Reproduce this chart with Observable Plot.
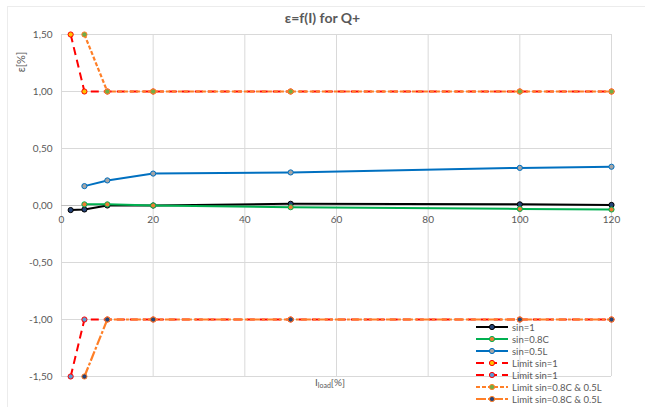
<!DOCTYPE html>
<html>
<head>
<meta charset="utf-8">
<script src="https://cdn.jsdelivr.net/npm/d3@7"></script>
<script src="https://cdn.jsdelivr.net/npm/@observablehq/plot@0.6"></script>
<style>
  html, body { margin: 0; padding: 0; background: #fff; }
  #chart { position: relative; width: 645px; height: 407px; font-family: Lato, "Open Sans", sans-serif; color: #595959; }
  #chart svg { display: block; }
  .title { position: absolute; left: 0; width: 645px; top: 10px; text-align: center; font-size: 14px; font-weight: bold; line-height: 16px; color: #595959; }
  .ylab { position: absolute; left: 20px; top: 62px; transform: translate(-50%, -50%) rotate(-90deg); font-size: 11px; white-space: nowrap; }
  .xlab { position: absolute; left: 330px; top: 382px; transform: translate(-50%, -50%); font-size: 10px; white-space: nowrap; }
  .xlab sub { font-size: 7px; vertical-align: -2px; }
  .legend { position: absolute; left: 474px; top: 321px; font-size: 9.5px; }
  .legend .row { display: flex; align-items: center; height: 12px; }
  .legend svg { margin-right: 2px; }
  .edge { position: absolute; left: 7px; top: 6px; right: 0; bottom: 0; border-left: 1px solid #ececec; border-top: 1px solid #ececec; pointer-events: none; }
</style>
</head>
<body>
<div id="chart"></div>
<script>
// Load current I_load [%] at which each error was measured
const loadAll = [2, 5, 10, 20, 50, 100, 120];
const loadFrom5 = [5, 10, 20, 50, 100, 120];

// Measured errors ε [%]
const errSin1 = [-0.04, -0.035, 0.0, 0.0, 0.015, 0.01, 0.005];
const errSin08C = [0.01, 0.01, 0.0, -0.015, -0.03, -0.035];
const errSin05L = [0.17, 0.22, 0.28, 0.29, 0.33, 0.34];

// Error limits ε [%]
const limSin1Upper = [1.5, 1.0, 1.0, 1.0, 1.0, 1.0, 1.0];
const limSin1Lower = [-1.5, -1.0, -1.0, -1.0, -1.0, -1.0, -1.0];
const limCLUpper = [1.5, 1.0, 1.0, 1.0, 1.0, 1.0];
const limCLLower = [-1.5, -1.0, -1.0, -1.0, -1.0, -1.0];

// Axis ticks
const xTicks = [0, 20, 40, 60, 80, 100, 120];
const yTicks = [-1.5, -1.0, -0.5, 0.0, 0.5, 1.0, 1.5];

const pts = (xs, ys) => xs.map((x, i) => ({x, y: ys[i]}));

// name, points, line colour, dash, marker fill, marker stroke
const series = [
  {name: "sin=1", data: pts(loadAll, errSin1), stroke: "#000000", width: 2, dash: null, fill: "#264478", mstroke: "#000000"},
  {name: "sin=0.8C", data: pts(loadFrom5, errSin08C), stroke: "#00B050", width: 2, dash: null, fill: "#ED7D31", mstroke: "#00B050"},
  {name: "sin=0.5L", data: pts(loadFrom5, errSin05L), stroke: "#0070C0", width: 2, dash: null, fill: "#A5A5A5", mstroke: "#0070C0"},
  {name: "Limit sin=1", data: pts(loadAll, limSin1Upper), stroke: "#FF0000", width: 2, dash: "8,5", fill: "#FFC000", mstroke: "#FF0000"},
  {name: "Limit sin=1", data: pts(loadAll, limSin1Lower), stroke: "#FF0000", width: 2, dash: "8,5", fill: "#5B9BD5", mstroke: "#FF0000"},
  {name: "Limit sin=0.8C & 0.5L", data: pts(loadFrom5, limCLUpper), stroke: "#FF7F27", width: 2.2, dash: "4,2", fill: "#70AD47", mstroke: "#FF7F27"},
  {name: "Limit sin=0.8C & 0.5L", data: pts(loadFrom5, limCLLower), stroke: "#FF7F27", width: 2.2, dash: "10,2,3,2", fill: "#264478", mstroke: "#FF7F27"}
];

const fmtY = d => d.toFixed(2).replace(".", ",");

const marks = [
  Plot.gridX(xTicks, {stroke: "#d9d9d9", strokeOpacity: 1, strokeWidth: 1}),
  Plot.gridY(yTicks, {stroke: "#d9d9d9", strokeOpacity: 1, strokeWidth: 1}),
  Plot.ruleY([0], {stroke: "#bfbfbf", strokeWidth: 1}),
  Plot.axisY(yTicks, {tickSize: 0, tickPadding: 9, tickFormat: fmtY, fontSize: 10, fill: "#595959", label: null}),
  Plot.text(xTicks, {x: d => d, y: 0, dy: 14, text: d => String(d), fontSize: 10, fill: "#595959"})
];

for (const s of series) {
  marks.push(Plot.line(s.data, {x: "x", y: "y", stroke: s.stroke, strokeWidth: s.width, strokeDasharray: s.dash, strokeLinecap: "butt"}));
  marks.push(Plot.dot(s.data, {x: "x", y: "y", r: 2.6, fill: s.fill, stroke: s.mstroke, strokeWidth: 1}));
}

const plot = Plot.plot({
  width: 645,
  height: 407,
  marginLeft: 61,
  marginRight: 34,
  marginTop: 34,
  marginBottom: 31,
  style: {background: "#fff", fontFamily: "Lato, 'Open Sans', sans-serif", color: "#595959"},
  x: {domain: [0, 120], axis: null},
  y: {domain: [-1.5, 1.5], axis: null},
  marks
});

const root = document.getElementById("chart");
root.appendChild(plot);

const edge = document.createElement("div");
edge.className = "edge";
root.appendChild(edge);

const title = document.createElement("div");
title.className = "title";
title.textContent = "ε=f(I) for Q+";
root.appendChild(title);

const ylab = document.createElement("div");
ylab.className = "ylab";
ylab.textContent = "ε[%]";
root.appendChild(ylab);

const xlab = document.createElement("div");
xlab.className = "xlab";
xlab.innerHTML = "I<sub>load</sub>[%]";
root.appendChild(xlab);

// Legend: line sample with its marker, then the series name
const legend = d3.select(root).append("div").attr("class", "legend");
for (const s of series) {
  const row = legend.append("div").attr("class", "row");
  const sw = row.append("svg").attr("width", 36).attr("height", 12);
  sw.append("line").attr("x1", 2).attr("x2", 34).attr("y1", 6).attr("y2", 6)
    .attr("stroke", s.stroke).attr("stroke-width", s.width)
    .attr("stroke-dasharray", s.dash);
  sw.append("circle").attr("cx", 18).attr("cy", 6).attr("r", 2.6)
    .attr("fill", s.fill).attr("stroke", s.mstroke).attr("stroke-width", 1);
  row.append("span").text(s.name);
}
</script>
</body>
</html>
